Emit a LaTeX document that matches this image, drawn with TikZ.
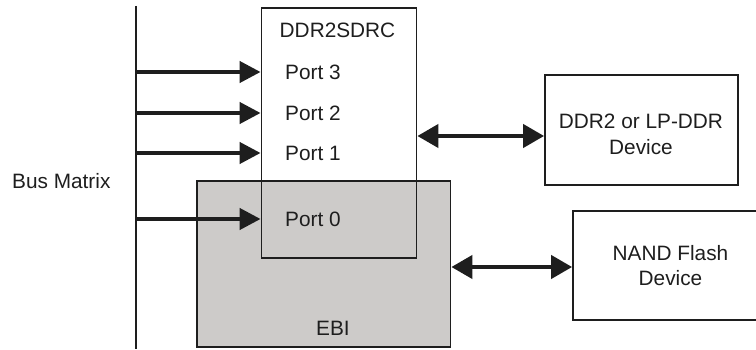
\documentclass[tikz,border=0pt]{standalone}
\usepackage{fontspec}
\setmainfont{Liberation Sans}
\usetikzlibrary{arrows.meta}
\definecolor{ebigray}{RGB}{205,203,201}
\definecolor{ink}{RGB}{30,30,30}
\tikzset{
  box/.style={draw=ink, line width=1.8pt, inner sep=0pt, rectangle},
  lbl/.style={inner sep=0pt, text=ink, font=\fontsize{20.8}{25.5}\selectfont, align=center},
  busarrow/.style={draw=ink, line width=4.2pt, -{Triangle[length=21pt,width=21pt]}},
  biarrow/.style={draw=ink, line width=4.2pt, {Triangle[length=21pt,width=23pt]}-{Triangle[length=21pt,width=23pt]}},
}
\begin{document}
\begin{tikzpicture}[x=1pt,y=-1pt]
\clip (0,0) rectangle (756,350);
\fill[white] (0,0) rectangle (756,350);
% EBI box (drawn first, grey)
\node[box, fill=ebigray, minimum width=253.5pt, minimum height=166pt] (ebi) at (323.75,264) {};
% DDR2SDRC box (outline only)
\node[box, minimum width=155pt, minimum height=250pt] (ctrl) at (339,133) {};
% device boxes
\node[box, minimum width=193pt, minimum height=110pt] (ddr) at (641.5,130) {};
\node[box, minimum width=195pt, minimum height=109pt] (nand) at (670.5,265.5) {};
% bus line
\coordinate (bustop) at (136,6);
\coordinate (busbot) at (136,349);
\draw[ink, line width=2pt] (bustop) -- (busbot);
% labels
\node[lbl, anchor=west] (busl) at (12,181) {Bus Matrix};
\node[lbl] (ctrll) at (337.5,30) {DDR2SDRC};
\node[lbl] (ebil) at (333,328.5) {EBI};
\node[lbl, anchor=west] (p3) at (285,72) {Port 3};
\node[lbl, anchor=west] (p2) at (285,113) {Port 2};
\node[lbl, anchor=west] (p1) at (285,153) {Port 1};
\node[lbl, anchor=west] (p0) at (285,219) {Port 0};
\node[lbl] (ddrl) at (641,134.5) {DDR2 or LP-DDR\\Device};
\node[lbl] (nandl) at (670.5,265.5) {NAND Flash\\Device};
% bus arrows
\coordinate (b3) at (136,72);
\coordinate (b2) at (136,113);
\coordinate (b1) at (136,153);
\coordinate (b0) at (136,219);
\draw[busarrow] (b3) -- (b3 -| ctrl.west);
\draw[busarrow] (b2) -- (b2 -| ctrl.west);
\draw[busarrow] (b1) -- (b1 -| ctrl.west);
\draw[busarrow] (b0) -- (b0 -| ctrl.west);
% bidirectional links
\coordinate (dl) at (545,136);
\draw[biarrow] (dl -| ctrl.east) -- (dl -| ddr.west);
\coordinate (nl) at (573,267);
\draw[biarrow] (nl -| ebi.east) -- (nl -| nand.west);
\end{tikzpicture}
\end{document}
